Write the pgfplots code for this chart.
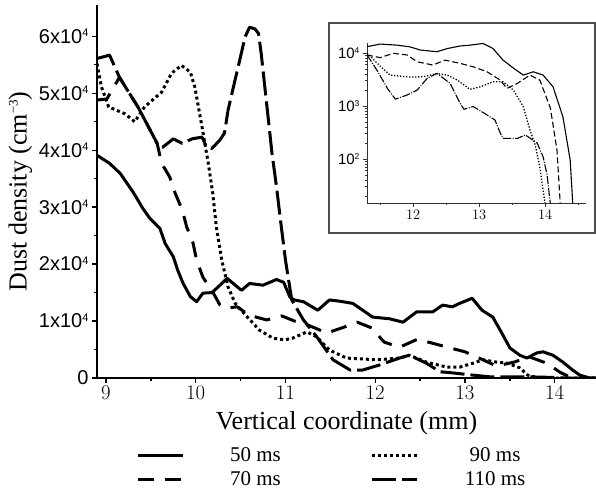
\documentclass[border=0pt]{standalone}
\usepackage{fontspec}
\setmainfont{Liberation Serif}
\setsansfont{Liberation Sans}
\usepackage{pgfplots}
\pgfplotsset{compat=1.18}
\newcommand{\supx}[1]{\raisebox{6.4pt}{\fontsize{11}{11}\selectfont #1}}
\newcommand{\supy}[1]{\raisebox{4.8pt}{\fontsize{8.5}{8.5}\selectfont #1}}
\newcommand{\supl}[1]{\raisebox{9pt}{\fontsize{13}{13}\selectfont #1}}
\begin{document}
\begin{tikzpicture}
\path[use as bounding box] (-97pt,-112pt) rectangle (499pt,378pt);
\begin{axis}[
  at={(0pt,0pt)}, anchor=south west,
  scale only axis, width=499pt, height=373pt,
  xmin=8.9, xmax=14.46, ymin=0, ymax=65500,
  axis x line*=bottom, axis y line*=left,
  axis line style={-, line width=1.6pt},
  tick align=outside,
  major tick length=5pt, minor tick length=3pt,
  every tick/.style={line width=1.4pt, black},
  xtick={9,10,11,12,13,14},
  minor x tick num=1,
  scaled y ticks=false, scaled x ticks=false,
  ytick={0,10000,20000,30000,40000,50000,60000},
  yticklabels={0,1x10\supx{4},2x10\supx{4},3x10\supx{4},4x10\supx{4},5x10\supx{4},6x10\supx{4}},
  minor y tick num=1,
  tick label style={font=\sffamily\fontsize{20}{22}\selectfont},
  xlabel={Vertical coordinate (mm)},
  ylabel={Dust density (cm\supl{−3})},
  label style={font=\fontsize{26}{28}\selectfont},
  xlabel style={yshift=-5pt},
  ylabel style={yshift=0pt},
  legend columns=2, transpose legend,
  legend image code/.code={\draw[#1] (0pt,0pt) -- (45pt,0pt);},
  legend style={at={(0.072,-0.176)}, anchor=north west, draw=none, fill=none,
    font=\fontsize{21}{22}\selectfont, row sep=4pt,
    /tikz/every odd column/.append style={column sep=44pt},
    /tikz/every even column/.append style={column sep=88pt}},
  every axis plot/.append style={line join=round},
]
\addplot[black, line width=3pt] table[row sep=\\] {
8.90 39100\\ 9.04 37700\\ 9.16 35900\\ 9.30 32700\\ 9.41 29800\\ 9.49 28000\\
9.60 26300\\ 9.66 23600\\ 9.75 21300\\ 9.80 18900\\ 9.86 16600\\ 9.94 14300\\
10.01 13400\\ 10.08 14900\\ 10.18 15000\\ 10.25 16000\\ 10.35 17500\\ 10.44 16300\\
10.51 15400\\ 10.60 16600\\ 10.75 16300\\ 10.90 17300\\ 10.98 16800\\ 11.05 14200\\
11.10 13700\\ 11.20 13400\\ 11.36 11900\\ 11.49 13700\\ 11.60 13500\\ 11.75 13100\\
11.88 11700\\ 11.97 10700\\ 12.16 10400\\ 12.31 9800\\ 12.46 11600\\ 12.64 11600\\
12.75 12800\\ 12.86 12500\\ 12.94 13100\\ 13.08 14000\\ 13.19 11900\\ 13.31 10700\\
13.41 7900\\ 13.50 5300\\ 13.61 4000\\ 13.69 3500\\ 13.80 4400\\ 13.87 4600\\
13.98 4000\\ 14.09 2800\\ 14.20 1400\\ 14.28 500\\ 14.39 0\\ 14.46 0\\
};
\addlegendentry{50 ms}
\addplot[black, line width=3pt, dash pattern=on 16pt off 11pt] table[row sep=\\] {
8.90 48800\\ 9.01 49000\\ 9.15 52800\\ 9.36 47500\\ 9.57 41200\\ 9.62 37700\\
9.71 35300\\ 9.77 32500\\ 9.85 29500\\ 9.90 26500\\ 9.97 23700\\ 10.01 20700\\
10.08 17700\\ 10.19 15100\\ 10.27 12800\\ 10.36 12300\\ 10.46 12500\\ 10.60 11000\\
10.79 10200\\ 10.96 10900\\ 11.10 10000\\ 11.25 9300\\ 11.46 7900\\ 11.63 8800\\
11.80 9800\\ 11.96 8800\\ 12.10 6300\\ 12.27 5400\\ 12.47 6800\\ 12.64 6100\\
12.83 5300\\ 13.00 4600\\ 13.20 3200\\ 13.35 2100\\ 13.55 2800\\ 13.72 3700\\
13.91 2600\\ 14.06 1000\\ 14.15 300\\ 14.25 0\\ 14.46 0\\
};
\addlegendentry{70 ms}
\addplot[black, line width=3pt, dash pattern=on 3pt off 3pt] table[row sep=\\] {
8.90 55200\\ 8.95 51100\\ 9.03 47600\\ 9.21 46400\\ 9.32 45000\\ 9.43 47600\\
9.62 50200\\ 9.73 53500\\ 9.84 54900\\ 9.94 53700\\ 9.99 51100\\ 10.07 44100\\
10.14 37700\\ 10.19 32400\\ 10.23 26500\\ 10.29 20700\\ 10.36 16000\\ 10.44 13100\\
10.57 10800\\ 10.71 8400\\ 10.86 7000\\ 10.99 6700\\ 11.08 7000\\ 11.24 8100\\
11.35 7200\\ 11.49 4900\\ 11.68 3500\\ 12.02 3200\\ 12.27 3500\\ 12.38 4000\\
12.57 2800\\ 12.80 1900\\ 12.94 1900\\ 13.09 2600\\ 13.20 3200\\ 13.35 2800\\
13.47 2600\\ 13.61 1800\\ 13.70 500\\ 13.80 100\\ 13.95 0\\ 14.46 0\\
};
\addlegendentry{90 ms}
\addplot[black, line width=3pt, dash pattern=on 24pt off 6pt] table[row sep=\\] {
8.90 56100\\ 9.04 56700\\ 9.15 52800\\ 9.36 47500\\ 9.57 41200\\ 9.63 40500\\
9.75 42000\\ 9.85 41200\\ 9.96 42000\\ 10.07 42300\\ 10.12 40600\\ 10.18 40300\\
10.27 41800\\ 10.32 43000\\ 10.36 47000\\ 10.42 51100\\ 10.49 55800\\ 10.55 59900\\
10.60 61600\\ 10.66 61300\\ 10.70 60500\\ 10.73 56900\\ 10.77 51100\\ 10.81 45300\\
10.85 39400\\ 10.90 33600\\ 10.94 28300\\ 11.00 20700\\ 11.07 13700\\ 11.20 10200\\
11.35 7200\\ 11.53 3200\\ 11.72 1400\\ 11.86 1400\\ 12.05 2300\\ 12.27 3500\\
12.38 4000\\ 12.57 2600\\ 12.72 1100\\ 12.86 900\\ 13.09 500\\ 13.28 200\\
13.70 200\\ 14.00 100\\ 14.10 0\\ 14.46 0\\
};
\addlegendentry{110 ms}
\end{axis}
\draw[black!70, line width=1.2pt] (232pt,145pt) rectangle (498pt,355pt);
\begin{axis}[
  at={(270pt,175pt)}, anchor=south west,
  scale only axis, width=219pt, height=160pt,
  ymode=log, xmin=11.3, xmax=14.62, ymin=14.8, ymax=15500,
  axis x line*=bottom, axis y line*=left,
  axis line style={-, line width=0.9pt, black!80},
  tick align=outside,
  major tick length=4pt, minor tick length=2pt,
  every tick/.style={line width=0.7pt, black!80},
  xtick={12,13,14}, minor xtick={11.5,12.5,13.5,14.5},
  ytick={100,1000,10000},
  yticklabels={10\supy{2},10\supy{3},10\supy{4}},
  minor ytick={20,30,40,50,60,70,80,90,200,300,400,500,600,700,800,900,2000,3000,4000,5000,6000,7000,8000,9000},
  tick label style={font=\sffamily\fontsize{15}{16}\selectfont},
  every axis plot/.append style={line join=round},
]
\addplot[black, line width=1.1pt] table[row sep=\\] {
11.30 13200\\ 11.50 14800\\ 11.76 14100\\ 11.95 13100\\ 12.11 11400\\ 12.36 10600\\
12.52 12200\\ 12.71 13600\\ 12.86 14100\\ 13.06 15200\\ 13.21 12200\\ 13.36 7400\\
13.52 5200\\ 13.67 3840\\ 13.82 4440\\ 13.97 3840\\ 14.12 2310\\ 14.27 626\\
14.38 96\\ 14.42 14\\
};
\addplot[black, line width=1.1pt, dash pattern=on 6pt off 3pt] table[row sep=\\] {
11.30 9200\\ 11.50 8200\\ 11.70 9900\\ 11.91 9200\\ 12.06 6850\\ 12.30 5940\\
12.48 7370\\ 12.71 6400\\ 12.91 5510\\ 13.12 4440\\ 13.32 3090\\ 13.42 2150\\
13.58 2680\\ 13.77 3840\\ 13.92 3090\\ 14.08 915\\ 14.18 148\\ 14.23 14\\
};
\addplot[black, line width=1.3pt, dash pattern=on 1.3pt off 1.7pt] table[row sep=\\] {
11.30 10000\\ 11.50 5650\\ 11.65 3840\\ 11.95 3520\\ 12.15 3570\\ 12.36 4100\\
12.52 3840\\ 12.67 3090\\ 12.86 2070\\ 13.02 2310\\ 13.21 2880\\ 13.36 2880\\
13.52 2000\\ 13.67 970\\ 13.77 356\\ 13.85 184\\ 13.92 70\\ 14.00 14\\
};
\addplot[black, line width=1.1pt, dash pattern=on 8pt off 1.5pt on 1pt off 1.5pt] table[row sep=\\] {
11.30 9200\\ 11.45 4760\\ 11.61 2150\\ 11.73 1350\\ 11.91 1620\\ 12.06 2000\\
12.21 3320\\ 12.36 4140\\ 12.56 2680\\ 12.71 1130\\ 12.77 870\\ 12.91 980\\
13.12 680\\ 13.24 545\\ 13.32 310\\ 13.36 245\\ 13.58 245\\ 13.70 285\\
13.88 200\\ 13.97 110\\ 14.03 50\\ 14.08 14\\
};
\end{axis}
\end{tikzpicture}
\end{document}
